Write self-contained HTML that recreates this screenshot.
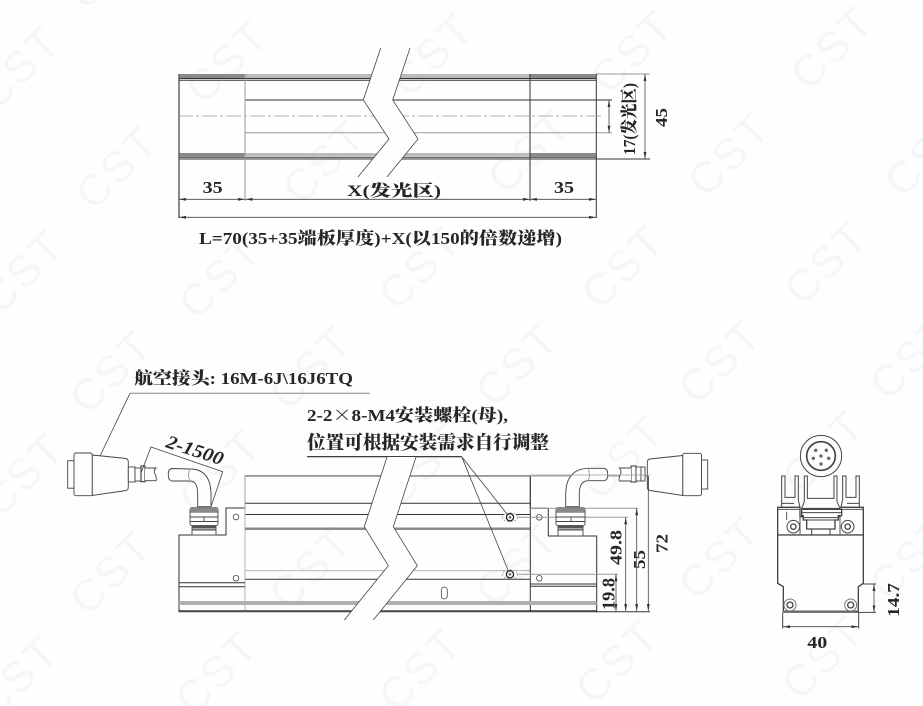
<!DOCTYPE html>
<html><head><meta charset="utf-8"><style>
html,body{margin:0;padding:0;background:#fefefe}
svg{display:block}
.t{font-family:"Liberation Serif","Noto Serif CJK SC",serif;font-weight:900;fill:#262626;font-size:17px}
.w{font-family:"Liberation Sans",sans-serif;font-size:44px;fill:#f3f8f7;text-anchor:middle;letter-spacing:3px}
.l{fill:none;stroke:#333;stroke-width:1}
.g{fill:none;stroke:#999;stroke-width:1}
.d{fill:none;stroke:#444;stroke-width:.8}
.a{fill:none;stroke:#444;stroke-width:.8;marker-start:url(#as);marker-end:url(#ae)}
</style></head><body>
<svg width="923" height="706" viewBox="0 0 923 706" xmlns="http://www.w3.org/2000/svg">
<defs>
<marker id="ae" markerUnits="userSpaceOnUse" markerWidth="8" markerHeight="4" refX="7" refY="2" orient="auto"><path d="M0 .6L7 2L0 3.4z" fill="#333"/></marker>
<marker id="as" markerUnits="userSpaceOnUse" markerWidth="8" markerHeight="4" refX="0" refY="2" orient="auto"><path d="M7 .6L0 2L7 3.4z" fill="#333"/></marker>
</defs>
<rect width="923" height="706" fill="#fefefe"/>
<!-- watermark -->
<g class="w">
<text transform="translate(120,-22) rotate(-45)">CST</text><text transform="translate(322,-27) rotate(-45)">CST</text><text transform="translate(530,-32) rotate(-45)">CST</text><text transform="translate(730,-35) rotate(-45)">CST</text>
<text transform="translate(30,78) rotate(-45)">CST</text><text transform="translate(238,72) rotate(-45)">CST</text><text transform="translate(443,65) rotate(-45)">CST</text><text transform="translate(643,62) rotate(-45)">CST</text><text transform="translate(843,58) rotate(-45)">CST</text>
<text transform="translate(128,178) rotate(-45)">CST</text><text transform="translate(335,172) rotate(-45)">CST</text><text transform="translate(540,162) rotate(-45)">CST</text><text transform="translate(740,165) rotate(-45)">CST</text><text transform="translate(937,165) rotate(-45)">CST</text>
<text transform="translate(34,282) rotate(-45)">CST</text><text transform="translate(231,287) rotate(-45)">CST</text><text transform="translate(431,278) rotate(-45)">CST</text><text transform="translate(634,277) rotate(-45)">CST</text><text transform="translate(837,273) rotate(-45)">CST</text>
<text transform="translate(122,382) rotate(-45)">CST</text><text transform="translate(322,378) rotate(-45)">CST</text><text transform="translate(528,375) rotate(-45)">CST</text><text transform="translate(731,372) rotate(-45)">CST</text><text transform="translate(922,368) rotate(-45)">CST</text>
<text transform="translate(34,485) rotate(-45)">CST</text><text transform="translate(231,482) rotate(-45)">CST</text><text transform="translate(434,475) rotate(-45)">CST</text><text transform="translate(634,468) rotate(-45)">CST</text><text transform="translate(834,462) rotate(-45)">CST</text>
<text transform="translate(122,583) rotate(-45)">CST</text><text transform="translate(322,578) rotate(-45)">CST</text><text transform="translate(528,575) rotate(-45)">CST</text><text transform="translate(731,568) rotate(-45)">CST</text><text transform="translate(922,568) rotate(-45)">CST</text>
<text transform="translate(28,688) rotate(-45)">CST</text><text transform="translate(228,683) rotate(-45)">CST</text><text transform="translate(431,680) rotate(-45)">CST</text><text transform="translate(628,672) rotate(-45)">CST</text><text transform="translate(834,668) rotate(-45)">CST</text>
</g>

<!-- TOP VIEW -->
<rect x="179" y="74" width="66" height="4" fill="#8a8a8a"/>
<rect x="245" y="74" width="285" height="4" fill="#bbb"/>
<rect x="530" y="74" width="66" height="4" fill="#8a8a8a"/>
<rect x="179" y="153" width="66" height="3.5" fill="#8a8a8a"/>
<rect x="245" y="153" width="285" height="3" fill="#bbb"/>
<rect x="530" y="153" width="66" height="3.5" fill="#8a8a8a"/>
<path class="l" d="M179 78.5H596M179 80.3H596M179 157.3H596M179 159H650M245 100H612"/>
<path class="g" d="M245 132.7H612M596 74H650M245 74V159"/>
<path d="M245 159V201" stroke="#aaa" stroke-width="1.2" fill="none"/>
<path d="M179 74V218" stroke="#5c5656" stroke-width="1.4" fill="none"/>
<path class="l" d="M530 74V201M596.3 74V218"/>
<path d="M178 116H602" stroke="#999" stroke-width=".8" stroke-dasharray="15 3 3 3" fill="none"/>
<polygon points="380.7,48 363.3,100 389,139 358,177 387,177 418,139 392.7,100 410,48" fill="#fefefe"/>
<path d="M380.7 48L363.3 100L389 139L358 177M410 48L392.7 100L418 139L387 177" fill="none" stroke="#444" stroke-width=".8"/>
<path class="a" d="M179 199.3H245"/><path class="a" d="M245.5 199.3H530"/><path class="a" d="M530 199.3H596"/><path class="a" d="M179 217.3H596"/>
<path class="a" d="M609 100V132.7"/><path class="a" d="M645 74V159"/>
<text class="t" x="202.7" y="193" textLength="20" lengthAdjust="spacingAndGlyphs">35</text>
<text class="t" x="554" y="193" textLength="20" lengthAdjust="spacingAndGlyphs">35</text>
<text class="t" x="347" y="196" textLength="94" lengthAdjust="spacingAndGlyphs" style="font-size:16px">X(发光区)</text>
<text class="t" x="199" y="244" textLength="363" lengthAdjust="spacingAndGlyphs">L=70(35+35端板厚度)+X(以150的倍数递增)</text>
<text class="t" transform="translate(635,155) rotate(-90)" textLength="72" lengthAdjust="spacingAndGlyphs" style="font-size:17px">17(发光区)</text>
<text class="t" transform="translate(667,127) rotate(-90)" textLength="19" lengthAdjust="spacingAndGlyphs">45</text>

<!-- FRONT VIEW -->
<text class="t" x="134" y="384" textLength="219" lengthAdjust="spacingAndGlyphs">航空接头: 16M-6J\16J6TQ</text>
<path d="M130 393.3H370" stroke="#888" stroke-width="1" fill="none"/>
<path class="d" d="M130 393.3L96.7 463"/>
<text class="t" x="307" y="421" textLength="201" lengthAdjust="spacingAndGlyphs">2-2<tspan style="font-family:'Noto Serif CJK SC',serif">×</tspan>8-M4安装螺栓(母),</text>
<text class="t" x="307" y="449" textLength="242" lengthAdjust="spacingAndGlyphs" style="font-size:18.5px">位置可根据安装需求自行调整</text>
<path d="M307 456.7H461.7" stroke="#222" stroke-width="1.1" fill="none"/>
<text class="t" transform="translate(165,447) rotate(18)" textLength="59" lengthAdjust="spacingAndGlyphs" style="font-style:italic;font-size:19px">2-1500</text>

<!-- body -->
<path class="l" d="M179 611.7V535H226V508H245V476H530.3V508.3H548.3V536H596.7V611.7Z"/>
<rect x="245" y="476" width="285" height="1" fill="#aaa"/>
<path class="l" d="M245 503.3H530M245 514.5H530M245 579.3H530" />
<path d="M245 570.7H530M245 476V611.7" stroke="#aaa" stroke-width=".9" fill="none"/>
<rect x="245" y="527.5" width="285" height="2.5" fill="#8a8a8a"/>
<path class="l" d="M179 582.7H245M179 586.7H245M530 584H596.7M530 586.2H596.7M530.3 476V611.7"/>
<rect x="179" y="601" width="417.7" height="4" fill="#b0b0b0"/>
<path class="l" d="M179 610.7H596.7"/>
<circle class="d" cx="236" cy="517" r="2.8"/><circle class="d" cx="236" cy="578.2" r="2.8"/>
<circle class="d" cx="539.3" cy="517.3" r="2.8"/><circle class="d" cx="539.3" cy="578.3" r="2.8"/>
<rect class="d" x="441.3" y="587" width="6" height="12" rx="3"/>
<!-- zigzag front -->
<polygon points="387,457 364.3,526.7 388.3,565.7 344.3,620 373.3,620 417.3,565.7 393.3,526.7 416,457" fill="#fefefe"/>
<path d="M387 457L364.3 526.7L388.3 565.7L344.3 620M416 457L393.3 526.7L417.3 565.7L373.3 620" fill="none" stroke="#444" stroke-width=".8"/>
<!-- bolts -->
<ellipse cx="510" cy="517.3" rx="7.5" ry="4.5" fill="#fefefe" stroke="#888" stroke-width=".7" stroke-dasharray="2 1.5"/>
<circle cx="510" cy="517.3" r="3.6" fill="#fefefe" stroke="#222" stroke-width="1.3"/><circle cx="510" cy="517.3" r="1.4" fill="#777"/>
<ellipse cx="510" cy="574.3" rx="7.5" ry="4.5" fill="#fefefe" stroke="#888" stroke-width=".7" stroke-dasharray="2 1.5"/>
<circle cx="510" cy="574.3" r="3.6" fill="#fefefe" stroke="#222" stroke-width="1.3"/><circle cx="510" cy="574.3" r="1.4" fill="#777"/>
<path class="d" d="M461.7 456.7L507 514M461.7 456.7L508 570"/>
<!-- dims right -->
<path class="g" d="M530 476H650M517 517.3H628M517 574.3H618"/>
<path class="g" d="M530 508.3H638"/>
<path class="l" d="M596 611.7H650"/>
<path class="a" d="M616 574.3V611"/><path class="a" d="M625.7 517.3V611"/><path class="a" d="M636.7 508.3V611"/><path class="a" d="M648.3 476V611"/>
<text class="t" transform="translate(614.5,610) rotate(-90)" textLength="32" lengthAdjust="spacingAndGlyphs" style="font-size:18px">19.8</text>
<text class="t" transform="translate(621.7,565) rotate(-90)" textLength="35" lengthAdjust="spacingAndGlyphs">49.8</text>
<text class="t" transform="translate(645,569) rotate(-90)" textLength="19" lengthAdjust="spacingAndGlyphs">55</text>
<text class="t" transform="translate(667.5,553) rotate(-90)" textLength="19" lengthAdjust="spacingAndGlyphs">72</text>

<!-- left connector -->
<g fill="#fefefe" stroke="#444" stroke-width=".9">
<rect x="67.7" y="460.7" width="6.5" height="27.5"/>
<rect x="74" y="453" width="18.3" height="42.7" rx="2"/>
<path d="M92.3 455L126 458.5Q128.3 459 128.3 462V487Q128.3 490 126 490.5L92.3 495.5Z"/>
<rect x="128.3" y="467" width="6.7" height="15"/>
<rect x="135" y="468" width="6" height="13"/>
<rect x="141" y="466" width="4" height="15.7" stroke-width="1.2"/>
<path d="M145 468H156Q153 471 155 474Q157 478 156 480.7H145" />
<path d="M190 469Q211 469 211 495V506.7H197.7V495Q198 481 190 481H172Q168 480 168.3 475Q168 469 172 468.5Z"/>
<path d="M190 469Q187 475 190 481" fill="none" stroke="#999"/>
<rect x="190" y="507.7" width="28" height="18" rx="2"/>
<path d="M190 512H218M190 517H218M190 521.5H218M204 517V521.5" fill="none"/>
<rect x="192" y="525.7" width="24" height="4" />
<rect x="192" y="530" width="24" height="5" fill="#fefefe"/>
</g>
<rect x="190" y="507.7" width="28" height="3.5" fill="#888"/>
<rect x="192" y="526" width="24" height="2.5" fill="#555"/>
<path class="d" d="M141 473L151 447L222.7 471.7L211 506.7"/>

<!-- right connector -->
<g fill="#fefefe" stroke="#444" stroke-width=".9">
<rect x="701.5" y="460" width="6.2" height="29"/>
<rect x="682.7" y="453.3" width="18.8" height="42.4" rx="2"/>
<path d="M682.7 455.5L650 459Q647.3 459.5 647.3 462V487Q647.3 490 650 490.5L682.7 495.5Z"/>
<rect x="631" y="466" width="5" height="16" stroke-width="1.1"/>
<rect x="636" y="467" width="5" height="14"/>
<rect x="641" y="467" width="4" height="14"/>
<path d="M631 468H619.3Q622 471 620.5 474Q618.5 478 619.3 481H631"/>
<path d="M588 468.3Q565.7 469 565.7 495V506.7H579.3V495Q579 481 588 480.7H604Q608 480 607.7 475Q608 469 604 468.3Z"/>
<path d="M588 468.3Q591 475 588 480.7" fill="none" stroke="#999"/>
<rect x="556" y="507.7" width="29" height="18" rx="2"/>
<path d="M556 512H585M556 517H585M556 521.5H585M571 517V521.5" fill="none"/>
<rect x="558" y="525.7" width="25" height="4"/>
<rect x="558" y="530" width="25" height="6"/>
</g>
<rect x="556" y="507.7" width="29" height="3.5" fill="#888"/>
<rect x="558" y="526" width="25" height="2.5" fill="#555"/>
<path d="M530 475H650" stroke="#999" stroke-width=".8" fill="none"/>
<path d="M648.3 476V490" stroke="#333" stroke-width="1" fill="none"/>

<!-- SIDE VIEW -->
<g transform="translate(750,420) scale(.33333)" fill="none" stroke="#444" stroke-width="3">
<circle cx="213" cy="108" r="62" fill="#fefefe"/>
<circle cx="213" cy="108" r="43" stroke-width="5"/>
<g fill="#666" stroke="none"><circle cx="213" cy="108" r="5"/><circle cx="197" cy="91" r="5"/><circle cx="229" cy="91" r="5"/><circle cx="190" cy="115" r="5"/><circle cx="236" cy="115" r="5"/><circle cx="213" cy="132" r="5"/></g>
<path fill="#fefefe" d="M95 168H105V232H135V168H145V240L150 262H95Z"/>
<path fill="#fefefe" d="M328 168H318V232H288V168H278V240L273 262H328Z"/>
<path fill="#fefefe" d="M163 168H172V235H252V168H261V245L270 265H155L163 245Z"/>
<path d="M95 250H132M328 250H291"/>
<path fill="#fefefe" d="M83 262H150V290H270V262H340V345H83Z" stroke-width="4"/>
<path d="M83 345H340V490L325 500V575H100V500L83 490Z" fill="#fefefe" stroke-width="4"/>
<path d="M100 575H325" stroke-width="7" stroke="#666"/>
<path d="M150 262V345M270 262V345M110 275V300M83 268H150M270 268H340" stroke="#555"/>
<path fill="#fefefe" stroke-width="4" d="M155 268H275V287H265V300H255V327H170V300H160V287H155Z"/>
<path d="M155 278H275M160 293H265M170 300H255M185 327V345M240 327V345"/>
<circle cx="130" cy="320" r="19" fill="#fefefe"/><circle cx="130" cy="320" r="8" stroke-width="4"/>
<circle cx="293" cy="320" r="19" fill="#fefefe"/><circle cx="293" cy="320" r="8" stroke-width="4"/>
<circle cx="120" cy="555" r="18" stroke="#777"/><circle cx="120" cy="555" r="9" stroke-width="4"/>
<circle cx="302" cy="555" r="18" stroke="#777"/><circle cx="302" cy="555" r="9" stroke-width="4"/>
<path d="M98 578V626M326 578V626M340 492H378M325 577H378"/>
</g>
<path class="a" d="M783 626.7H858.5"/>
<path class="a" d="M874 584V612.3"/>
<text class="t" x="807.3" y="648" textLength="20" lengthAdjust="spacingAndGlyphs">40</text>
<text class="t" transform="translate(899,616.7) rotate(-90)" textLength="33.5" lengthAdjust="spacingAndGlyphs">14.7</text>
</svg>
</body></html>
